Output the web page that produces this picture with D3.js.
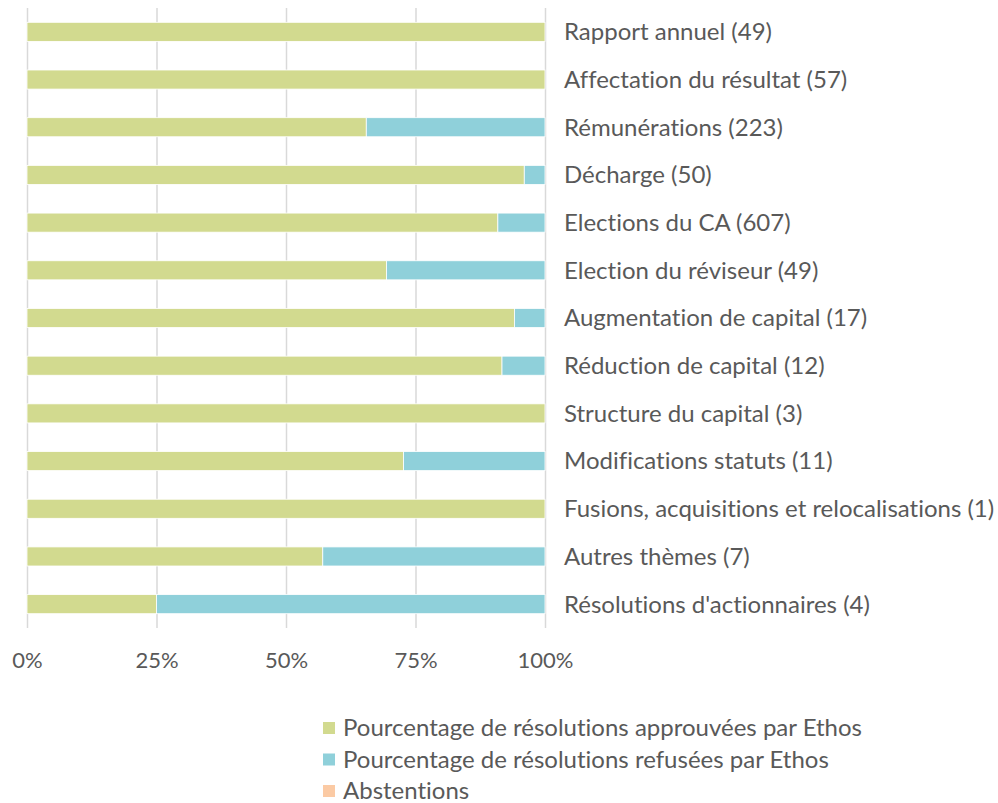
<!DOCTYPE html>
<html><head><meta charset="utf-8">
<script src="https://cdn.jsdelivr.net/npm/d3@7"></script>
<style>body{margin:0;background:#fff;} svg{display:block;} text{font-variant-ligatures:none;font-feature-settings:"liga" 0;}</style>
</head><body>
<svg id="chart" width="998" height="803"></svg>
<script>
const categories = [
  "Rapport annuel (49)",
  "Affectation du résultat (57)",
  "Rémunérations (223)",
  "Décharge (50)",
  "Elections du CA (607)",
  "Election du réviseur (49)",
  "Augmentation de capital (17)",
  "Réduction de capital (12)",
  "Structure du capital (3)",
  "Modifications statuts (11)",
  "Fusions, acquisitions et relocalisations (1)",
  "Autres thèmes (7)",
  "Résolutions d'actionnaires (4)"
];
const approved = [100, 100, 65.5, 96.0, 90.9, 69.4, 94.1, 91.7, 100, 72.7, 100, 57.1, 25.0];
const refused  = [0, 0, 34.5, 4.0, 9.1, 30.6, 5.9, 8.3, 0, 27.3, 0, 42.9, 75.0];
const abstentions = [0, 0, 0, 0, 0, 0, 0, 0, 0, 0, 0, 0, 0];
const seriesNames = [
  "Pourcentage de résolutions approuvées par Ethos",
  "Pourcentage de résolutions refusées par Ethos",
  "Abstentions"
];
const tickValues = [0, 25, 50, 75, 100];
const colors = ["#d2da8f", "#8fd0da", "#fbcaa4"];

const svg = d3.select("#chart");
const font = "Lato, 'Open Sans', sans-serif";
const textColor = "#595959";

const x = d3.scaleLinear().domain([0, 100]).range([27, 545]);
const y = d3.scaleBand().domain(categories).range([8, 628]).paddingInner(0.6).paddingOuter(0.3);

const rows = categories.map((c, i) => ({cat: c, approved: approved[i], refused: refused[i], abst: abstentions[i]}));
const stack = d3.stack().keys(["approved", "refused", "abst"]);
const stacked = stack(rows);

// gridlines
svg.append("g")
  .attr("transform", "translate(0,628)")
  .call(d3.axisBottom(x).tickValues(tickValues).tickSize(-620).tickFormat(d => d + "%"))
  .call(g => g.select(".domain").remove())
  .call(g => g.selectAll(".tick line").attr("stroke", "#d9d9d9").attr("stroke-width", 1.5))
  .call(g => g.selectAll(".tick text").attr("font-family", font).attr("font-size", 22)
     .attr("fill", textColor).attr("dy", 0).attr("y", 40));

// bars
svg.append("g").selectAll("g").data(stacked).join("g")
  .attr("fill", (d, i) => colors[i])
  .selectAll("rect").data(d => d).join("rect")
  .attr("x", d => x(d[0]))
  .attr("width", d => x(d[1]) - x(d[0]))
  .attr("y", d => y(d.data.cat))
  .attr("height", y.bandwidth())
  .attr("stroke", "#fff").attr("stroke-width", d => (d[1] - d[0]) > 0 ? 0.8 : 0);

// category labels
svg.append("g").selectAll("text").data(categories).join("text")
  .attr("x", 564)
  .attr("y", d => y(d) + y.bandwidth() / 2)
  .attr("dy", "0.35em")
  .attr("font-family", font).attr("font-size", 24).attr("fill", textColor)
  .text(d => d);

// legend
const lg = svg.append("g");
seriesNames.forEach((n, i) => {
  const yy = 728 + i * 31.5;
  lg.append("rect").attr("x", 323).attr("y", yy - 6).attr("width", 12).attr("height", 12).attr("fill", colors[i]);
  lg.append("text").attr("x", 343).attr("y", yy).attr("dy", "0.35em")
    .attr("font-family", font).attr("font-size", 24).attr("fill", textColor).text(n);
});
</script>
</body></html>
